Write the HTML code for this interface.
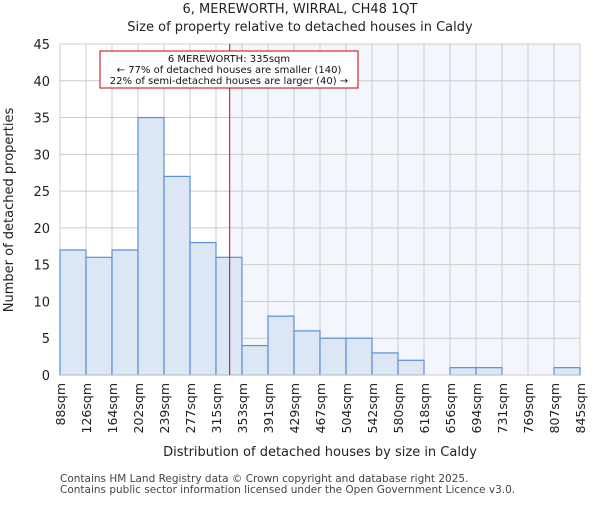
<!DOCTYPE html>
<html><head><meta charset="utf-8"><style>body{margin:0;background:#fff}svg{font-family:"DejaVu Sans","Liberation Sans",sans-serif}</style></head>
<body>
<svg id="c" width="600" height="500" xmlns="http://www.w3.org/2000/svg"></svg>
<script>
const edgeLabels=["88sqm","126sqm","164sqm","202sqm","239sqm","277sqm","315sqm","353sqm","391sqm","429sqm","467sqm","504sqm","542sqm","580sqm","618sqm","656sqm","694sqm","731sqm","769sqm","807sqm","845sqm"];
const edgeValues=[88,126,164,202,239,277,315,353,391,429,467,504,542,580,618,656,694,731,769,807,845];
const counts=[17,16,17,35,27,18,16,4,8,6,5,5,3,2,0,1,1,0,0,1];
const yTicks=[0,5,10,15,20,25,30,35,40,45];
const marker=335;
const svg=document.getElementById('c');const NS='http://www.w3.org/2000/svg';
const L=60,R=580,T=44,B=375,n=counts.length;
const xi=i=>L+(R-L)*i/n;
const xv=v=>{for(let i=0;i<edgeValues.length-1;i++){if(v<=edgeValues[i+1])return xi(i)+(v-edgeValues[i])/(edgeValues[i+1]-edgeValues[i])*(xi(i+1)-xi(i));}return R;};
const y=v=>B-(B-T)*v/45;
function el(t,a,p){const e=document.createElementNS(NS,t);for(const k in a)e.setAttribute(k,a[k]);(p||svg).appendChild(e);return e;}
function tx(s,a,name){const e=el('text',a);e.textContent=s;return e;}
const mx=xv(marker);
let r=el('rect',{x:mx,y:T,width:R-mx,height:B-T,fill:'#f3f6fd'});

yTicks.forEach(v=>{let g=el('line',{x1:L,x2:R,y1:y(v),y2:y(v),stroke:'#cccccc'});
tx(String(v),{x:L-10,y:y(v)+5,'text-anchor':'end','font-size':13,fill:'#222'},'y-tick-label');});
edgeLabels.forEach((s,i)=>{let g=el('line',{x1:xi(i),x2:xi(i),y1:T,y2:B,stroke:'#cccccc'});
tx(s,{x:0,y:0,transform:`translate(${xi(i)+5},383) rotate(-90)`,'text-anchor':'end','font-size':12.5,fill:'#222'},'x-tick-label');});
counts.forEach((c,i)=>{if(!c)return;let b=el('rect',{x:xi(i),y:y(c),width:xi(i+1)-xi(i),height:B-y(c),fill:'#dce6f4',stroke:'#5b8fd6','stroke-width':1.2});
});
let a=el('line',{x1:L,x2:R,y1:B,y2:B,stroke:'#cccccc'});
let m=el('line',{x1:mx,x2:mx,y1:T,y2:B,stroke:'#dd0000','stroke-width':1});
let bx=el('rect',{x:100,y:51,width:258,height:37,fill:'#fff',stroke:'#cc0000'});
tx('6 MEREWORTH: 335sqm',{x:229,y:62,'text-anchor':'middle','font-size':10,fill:'#111'},'annotation-title');
tx('← 77% of detached houses are smaller (140)',{x:229,y:73,'text-anchor':'middle','font-size':10,fill:'#111'},'annotation-smaller');
tx('22% of semi-detached houses are larger (40) →',{x:229,y:84,'text-anchor':'middle','font-size':10,fill:'#111'},'annotation-larger');
tx('6, MEREWORTH, WIRRAL, CH48 1QT',{x:300,y:13,'text-anchor':'middle','font-size':13,fill:'#222'},'chart-title');
tx('Size of property relative to detached houses in Caldy',{x:300,y:31,'text-anchor':'middle','font-size':13,fill:'#222'},'chart-subtitle');
tx('Distribution of detached houses by size in Caldy',{x:320,y:456,'text-anchor':'middle','font-size':13,fill:'#222'},'x-axis-title');
tx('Number of detached properties',{x:0,y:0,transform:'translate(13,210) rotate(-90)','text-anchor':'middle','font-size':13,fill:'#222'},'y-axis-title');
tx('Contains HM Land Registry data © Crown copyright and database right 2025.',{x:60,y:482,'font-size':10.5,fill:'#444'},'footer-line1');
tx('Contains public sector information licensed under the Open Government Licence v3.0.',{x:60,y:493,'font-size':10.5,fill:'#444'},'footer-line2');
</script>
</body></html>
